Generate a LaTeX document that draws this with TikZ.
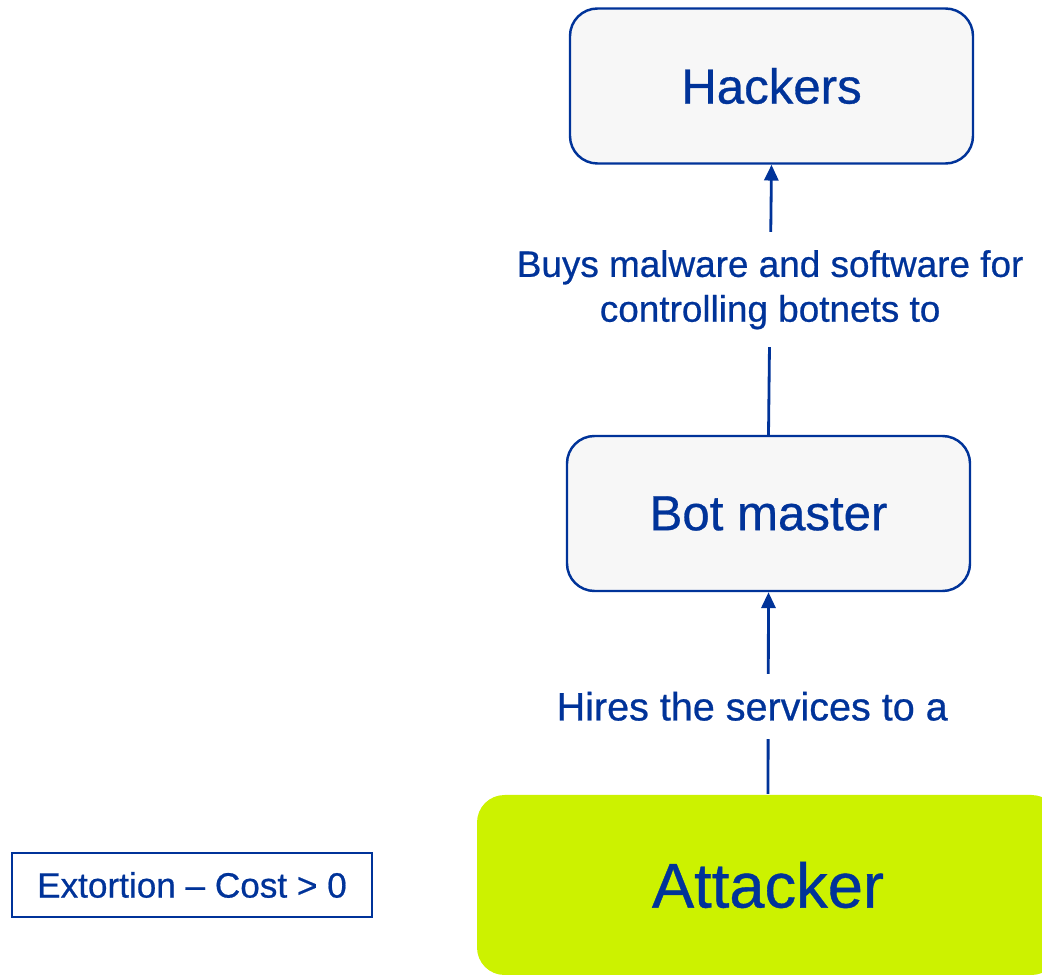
\documentclass[tikz,border=0pt]{standalone}
\usepackage{fontspec}
\setmainfont{Liberation Sans}[FakeBold=0.6]
\usetikzlibrary{arrows.meta}
\usepackage{xcolor}
\definecolor{navy}{HTML}{003399}
\definecolor{limefill}{HTML}{CCF200}
\definecolor{paper}{HTML}{F7F7F7}
\tikzset{
  actor/.style={rectangle,rounded corners=0.55cm,draw=navy,fill=paper,line width=1.4pt,
    text=navy,minimum width=8.06cm,minimum height=3.1cm,font=\fontsize{28}{32}\selectfont},
  attackbox/.style={actor,draw=none,fill=limefill,minimum width=11.64cm,minimum height=3.6cm,
    font=\fontsize{36}{40}\selectfont},
  notebox/.style={rectangle,draw=navy,line width=1.1pt,text=navy,minimum width=7.2cm,
    minimum height=1.28cm,font=\fontsize{20}{22}\selectfont},
  link/.style={-{Triangle[length=9pt,width=8pt]},line width=1.6pt,color=navy},
  linklabel/.style={fill=white,text=navy,align=center,inner xsep=2pt,inner ysep=0.36cm,
    font=\fontsize{21}{25.5}\selectfont},
}
\begin{document}
\begin{tikzpicture}
  \useasboundingbox (0,0) rectangle (20.84,19.48);
  \clip (0,0) rectangle (20.84,19.48);
  \node[actor] (hackers) at (15.43,17.76){Hackers};
  \node[actor] (botmaster) at (15.37,9.21){Bot master};
  \node[attackbox] (attacker) at (15.36,1.78){Attacker};
  \node[notebox] (extortion) at (3.84,1.78){Extortion -- Cost > 0};
  \draw[link] (botmaster.north)--node[linklabel,pos=0.537] (buys)
    {Buys malware and software for\\controlling botnets to}(hackers.south);
  \draw[link] (attacker.north)--node[linklabel,pos=0.434,xshift=-0.32cm,
    font=\fontsize{22.5}{26}\selectfont] (hires)
    {Hires the services to a}(botmaster.south);
\end{tikzpicture}
\end{document}
